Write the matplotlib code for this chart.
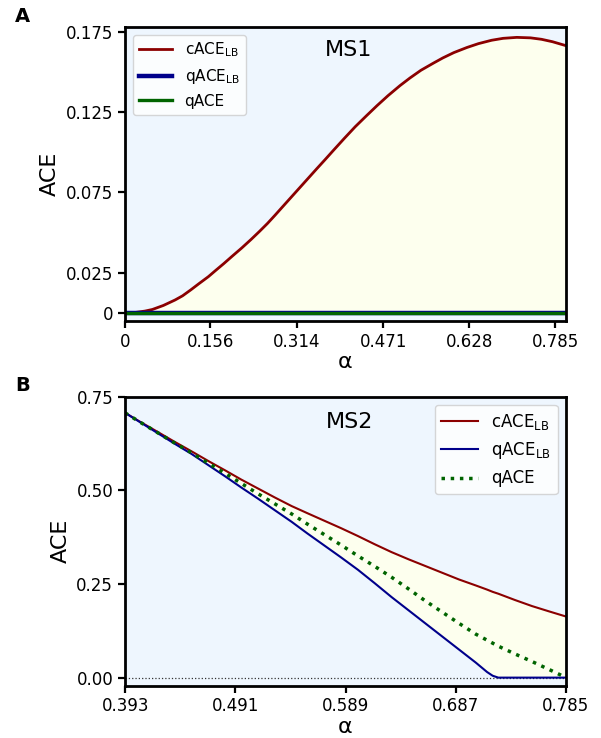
import matplotlib.pyplot as plt

# Panel A (MS1) data
alpha_a = [0, 0.02, 0.0365, 0.05, 0.07, 0.0913, 0.105, 0.12, 0.135, 0.152,
           0.165, 0.18, 0.195, 0.213, 0.23, 0.245, 0.26, 0.274, 0.29, 0.305,
           0.32, 0.335, 0.35, 0.365, 0.38, 0.4, 0.42, 0.441, 0.46, 0.48,
           0.502, 0.52, 0.54, 0.563, 0.58, 0.6, 0.624, 0.645, 0.669, 0.69,
           0.715, 0.74, 0.76, 0.78, 0.805]
cace_a = [0, 0.0002, 0.001, 0.002, 0.0045, 0.0079, 0.0105, 0.0142, 0.0181,
          0.0224, 0.0262, 0.0305, 0.0350, 0.0403, 0.0456, 0.0505, 0.0556,
          0.0608, 0.0669, 0.0726, 0.0783, 0.0840, 0.0897, 0.0953, 0.1010,
          0.1085, 0.1158, 0.1228, 0.1290, 0.1352, 0.1415, 0.1462, 0.1510,
          0.1555, 0.1587, 0.1620, 0.1652, 0.1676, 0.1697, 0.1709, 0.1715,
          0.1712, 0.1703, 0.1688, 0.1663]
qace_lb_a = [0.0] * len(alpha_a)
qace_a = [0.0] * len(alpha_a)

# Panel B (MS2) data
alpha_b = [0.3927, 0.405, 0.42, 0.436, 0.452, 0.467, 0.482, 0.496, 0.511,
           0.526, 0.541, 0.555, 0.57, 0.585, 0.6, 0.615, 0.63, 0.645, 0.66,
           0.675, 0.69, 0.705, 0.715, 0.72, 0.725, 0.74, 0.755, 0.77, 0.7854]
cace_b = [0.707, 0.685, 0.659, 0.631, 0.604, 0.578, 0.553, 0.529, 0.505,
          0.481, 0.458, 0.439, 0.419, 0.399, 0.378, 0.356, 0.335, 0.316,
          0.298, 0.280, 0.262, 0.246, 0.235, 0.229, 0.224, 0.207, 0.191,
          0.177, 0.163]
qace_lb_b = [0.707, 0.684, 0.656, 0.626, 0.597, 0.567, 0.537, 0.508, 0.478,
             0.447, 0.416, 0.385, 0.353, 0.321, 0.288, 0.252, 0.215, 0.180,
             0.145, 0.110, 0.075, 0.040, 0.015, 0.005, 0.0, 0.0, 0.0, 0.0,
             0.0]
qace_b = [0.707, 0.684, 0.657, 0.628, 0.600, 0.572, 0.545, 0.519, 0.491,
          0.464, 0.437, 0.410, 0.382, 0.354, 0.325, 0.297, 0.268, 0.237,
          0.205, 0.175, 0.145, 0.116, 0.100, 0.092, 0.084, 0.063, 0.043,
          0.022, 0.0]

xticks_a = [0, 0.156, 0.314, 0.471, 0.628, 0.785]
xticklabels_a = ['0', '0.156', '0.314', '0.471', '0.628', '0.785']
yticks_a = [0, 0.025, 0.075, 0.125, 0.175]
yticklabels_a = ['0', '0.025', '0.075', '0.125', '0.175']
xticks_b = [0.393, 0.491, 0.589, 0.687, 0.785]
yticks_b = [0, 0.25, 0.5, 0.75]
yticklabels_b = ['0.00', '0.25', '0.50', '0.75']

red = '#8b0000'
blue = '#00008b'
green = '#006400'
bg = '#eef6fe'
fill = '#fdffee'

fig = plt.figure(figsize=(6.01, 7.38), dpi=100)
ax_a = fig.add_axes([0.208, 0.565, 0.734, 0.3985])
ax_b = fig.add_axes([0.208, 0.0709, 0.734, 0.3916])

# Panel A
ax_a.set_facecolor(bg)
ax_a.fill_between(alpha_a, qace_lb_a, cace_a, color=fill, lw=0)
ax_a.plot(alpha_a, cace_a, color=red, lw=2, label=r'cACE$_{\mathrm{LB}}$')
ax_a.plot(alpha_a, qace_lb_a, color=blue, lw=3.2, label=r'qACE$_{\mathrm{LB}}$')
ax_a.plot(alpha_a, qace_a, color=green, lw=2.4, label='qACE')
ax_a.set_xlim(0, 0.805)
ax_a.set_ylim(-0.0052, 0.178)
ax_a.set_xticks(xticks_a)
ax_a.set_xticklabels(xticklabels_a)
ax_a.set_yticks(yticks_a)
ax_a.set_yticklabels(yticklabels_a)
ax_a.text(0.506, 0.92, 'MS1', transform=ax_a.transAxes, fontsize=16,
          ha='center', va='center')
ax_a.legend(loc='upper left', fontsize=11, handlelength=2.2)

# Panel B
ax_b.set_facecolor(bg)
ax_b.fill_between(alpha_b, qace_lb_b, cace_b, color=fill, lw=0)
ax_b.axhline(0, color='#333333', lw=0.9, ls=':')
ax_b.plot(alpha_b, cace_b, color=red, lw=1.5, label=r'cACE$_{\mathrm{LB}}$')
ax_b.plot(alpha_b, qace_lb_b, color=blue, lw=1.5, label=r'qACE$_{\mathrm{LB}}$')
ax_b.plot(alpha_b, qace_b, color=green, lw=2.5, ls=':', label='qACE')
ax_b.set_xlim(0.3927, 0.7854)
ax_b.set_ylim(-0.0215, 0.75)
ax_b.set_xticks(xticks_b)
ax_b.set_xticklabels([str(t) for t in xticks_b])
ax_b.set_yticks(yticks_b)
ax_b.set_yticklabels(yticklabels_b)
ax_b.text(0.508, 0.913, 'MS2', transform=ax_b.transAxes, fontsize=16,
          ha='center', va='center')
ax_b.legend(loc='upper right', fontsize=12, handlelength=2.2)

for ax in (ax_a, ax_b):
    for s in ax.spines.values():
        s.set_linewidth(2)
    ax.tick_params(labelsize=12, width=1.6, length=5)
    ax.set_xlabel('α', fontsize=16, labelpad=1)
    ax.set_ylabel('ACE', fontsize=16)

fig.text(0.025, 0.978, 'A', fontsize=14, fontweight='bold', va='center')
fig.text(0.025, 0.4776, 'B', fontsize=14, fontweight='bold', va='center')

fig.savefig('out.png', dpi=100)
